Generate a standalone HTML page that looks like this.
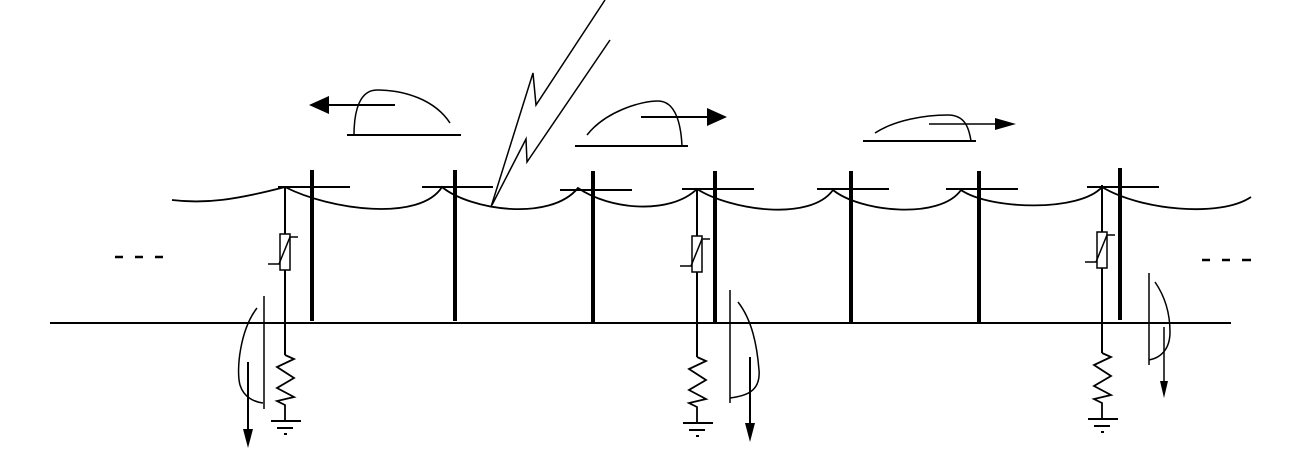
<!DOCTYPE html>
<html><head><meta charset="utf-8"><style>html,body{margin:0;padding:0;background:#fff}svg{display:block}</style></head>
<body>
<svg width="1297" height="462" viewBox="0 0 1297 462" xmlns="http://www.w3.org/2000/svg" fill="none" stroke="#000" stroke-width="2">
<defs>
<g id="arr">
<line x1="0" y1="0" x2="0" y2="47"/>
<rect x="-5" y="47" width="10" height="36" stroke-width="1.5" fill="#fff"/>
<polyline points="-17,77 -6,77 5,50 13,50" stroke-width="1.5"/>
<line x1="0" y1="83" x2="0" y2="168"/>
<polyline points="0,168 9,172 -8,180 9,191 -8,201 9,210 -8,214 0,218 0,234" stroke-width="1.8"/>
<line x1="-14" y1="234" x2="16" y2="234"/>
<line x1="-8" y1="241" x2="8" y2="241"/>
<line x1="-1" y1="247" x2="2" y2="247"/>
</g>
</defs>
<!-- ground -->
<line x1="50" y1="323" x2="1231" y2="323"/>
<!-- poles -->
<g stroke-width="4">
<line x1="312" y1="170" x2="312" y2="321"/>
<line x1="455" y1="170" x2="455" y2="321"/>
<line x1="593" y1="171" x2="593" y2="323"/>
<line x1="715" y1="171" x2="715" y2="323"/>
<line x1="851" y1="171" x2="851" y2="323"/>
<line x1="979" y1="171" x2="979" y2="323"/>
<line x1="1120" y1="168" x2="1120" y2="320"/>
</g>
<!-- crossarms -->
<line x1="278" y1="187" x2="350" y2="187"/>
<line x1="422" y1="187" x2="493" y2="187"/>
<line x1="560" y1="190" x2="632" y2="190"/>
<line x1="682" y1="189" x2="754" y2="189"/>
<line x1="817" y1="189" x2="889" y2="189"/>
<line x1="946" y1="189" x2="1018" y2="189"/>
<line x1="1087" y1="187" x2="1159" y2="187"/>
<!-- wire -->
<path d="M172,200 C205,204 235,200 285,187 C330,210 420,222 442,187 C470,210 550,222 578,188 C610,210 670,215 697,189 C730,210 810,222 833,190 C860,212 940,220 961,190 C990,210 1080,212 1102,187 C1140,210 1220,218 1251,197" stroke-width="1.8"/>
<!-- arresters -->
<use href="#arr" x="285" y="187"/>
<use href="#arr" x="697" y="189"/>
<use href="#arr" x="1102" y="185"/>
<!-- current paths -->
<line x1="264" y1="296" x2="264" y2="409" stroke-width="1.5"/>
<path d="M257,308 C240,330 236,370 240,385 C244,398 255,402 263,403" stroke-width="1.5"/>
<line x1="248" y1="362" x2="248" y2="430"/>
<polygon points="243,429 253,429 248,448" fill="#000" stroke="none"/>

<line x1="730" y1="290" x2="730" y2="403" stroke-width="1.5"/>
<path d="M738,302 C752,320 757,345 759,370 C761,392 745,396 730,398" stroke-width="1.5"/>
<line x1="750" y1="357" x2="750" y2="424"/>
<polygon points="745,423 755,423 750,442" fill="#000" stroke="none"/>

<line x1="1149" y1="273" x2="1149" y2="365" stroke-width="1.5"/>
<path d="M1155,282 C1166,298 1170,315 1170,332 C1170,350 1160,358 1149,360" stroke-width="1.5"/>
<line x1="1164" y1="327" x2="1164" y2="382" stroke-width="1.5"/>
<polygon points="1160,381 1168,381 1164,398" fill="#000" stroke="none"/>
<!-- lightning -->
<polyline points="605,0 536,105 533,73 491,207" stroke-width="1.5"/>
<polyline points="610,40 527,162 526,139 492,205" stroke-width="1.5"/>
<!-- waves -->
<line x1="347" y1="135" x2="461" y2="135"/>
<path d="M354,135 C354,110 360,90 377,90 C405,90 435,100 450,123" stroke-width="1.5"/>
<line x1="395" y1="105" x2="328" y2="105"/>
<polygon points="309,105 329,96 329,114" fill="#000" stroke="none"/>

<line x1="575" y1="146" x2="688" y2="146"/>
<path d="M587,135 C605,112 640,101 658,101 C676,101 681,125 682,146" stroke-width="1.5"/>
<line x1="641" y1="117" x2="709" y2="117"/>
<polygon points="727,117 707,108 707,126" fill="#000" stroke="none"/>

<line x1="863" y1="141" x2="976" y2="141"/>
<path d="M875,133 C895,120 925,115 948,115 C965,115 969,128 971,141" stroke-width="1.5"/>
<line x1="929" y1="124" x2="997" y2="124" stroke-width="1.5"/>
<polygon points="1016,124 995,118 995,130" fill="#000" stroke="none"/>
<!-- dashes -->
<g stroke-width="2.5">
<line x1="115" y1="257" x2="123" y2="257"/><line x1="135" y1="257" x2="143" y2="257"/><line x1="155" y1="257" x2="163" y2="257"/>
<line x1="1202" y1="260" x2="1210" y2="260"/><line x1="1222" y1="260" x2="1230" y2="260"/><line x1="1242" y1="260" x2="1251" y2="260"/>
</g>
</svg>
</body></html>
